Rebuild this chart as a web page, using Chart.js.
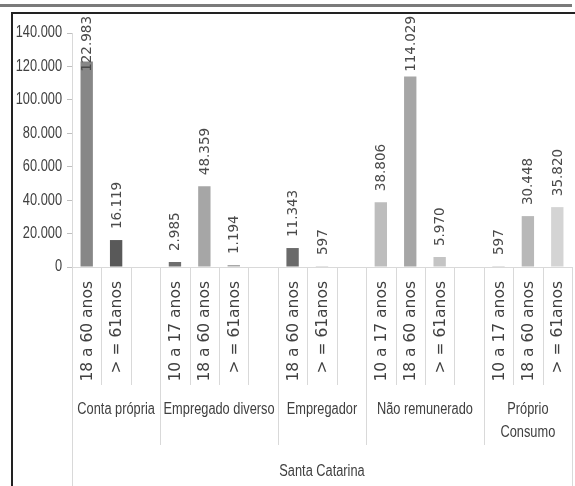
<!DOCTYPE html>
<html>
<head>
<meta charset="utf-8">
<script src="https://cdn.jsdelivr.net/npm/chart.js@4.4.1/dist/chart.umd.min.js"></script>
<style>
  body { margin: 0; background: #fff; }
  #wrap { position: relative; width: 575px; height: 486px; overflow: hidden; }
  #topline { position: absolute; left: 0; top: 4px; width: 572px; height: 3px; background: #7a7a7a; }
  #frameTop { position: absolute; left: 11px; top: 12px; right: 0; height: 2px; background: #222; }
  #frameLeft { position: absolute; left: 11px; top: 12px; bottom: 0; width: 2px; background: #222; }
  canvas { position: absolute; left: 0; top: 0; }
</style>
</head>
<body>
<div id="wrap">
  <canvas id="grafik" width="575" height="486"></canvas>
  <div id="topline"></div>
  <div id="frameTop"></div>
  <div id="frameLeft"></div>
</div>
<script>
// grupper (nivå 2) och hela regionen (nivå 3)
const grupper = [['Conta própria'], ['Empregado diverso'], ['Empregador'], ['Não remunerado'], ['Próprio', 'Consumo']];
const region = 'Santa Catarina';

// en kategori per stapelplats, tomma platser avslutar varje grupp
const underEtiketter = [
  '18 a 60 anos', '> = 61anos', '',
  '10 a 17 anos', '18 a 60 anos', '> = 61anos', '',
  '18 a 60 anos', '> = 61anos', '',
  '10 a 17 anos', '18 a 60 anos', '> = 61anos', '',
  '10 a 17 anos', '18 a 60 anos', '> = 61anos'
];
const gruppIndex = [0, 0, 0, 1, 1, 1, 1, 2, 2, 2, 3, 3, 3, 3, 4, 4, 4];
const varden = [122983, 16119, null, 2985, 48359, 1194, null, 11343, 597, null, 38806, 114029, 5970, null, 597, 30448, 35820];

const yTicks = [0, 20000, 40000, 60000, 80000, 100000, 120000, 140000];

// stapelfärger (gråskala som i originalet)
const fargPalett = ['#878787', '#595959', '#fff', '#6e6e6e', '#a6a6a6', '#a8a8a8', '#fff', '#6a6a6a', '#c8c8c8', '#fff',
  '#bdbdbd', '#a6a6a6', '#c4c4c4', '#fff', '#c8c8c8', '#b8b8b8', '#d4d4d4'];

// 122983 -> "122.983"
const formatera = v => String(v).replace(/\B(?=(\d{3})+(?!\d))/g, '.');

const textFarg = '#404040';
const linjeFarg = '#d9d9d9';
const smal = 0.8; // horisontell komprimering, ersätter Calibri

// smal text: ritas med ihoptryckt x-led
function smalText(ctx, txt, x, y, align) {
  ctx.save();
  ctx.translate(x, y);
  ctx.scale(smal, 1);
  ctx.textAlign = align;
  ctx.fillText(txt, 0, 0);
  ctx.restore();
}

// ritar datavärden, underetiketter, gruppetiketter och avdelare
const etikettPlugin = {
  id: 'etiketter',
  afterDatasetsDraw(chart) {
    const ctx = chart.ctx;
    const x = chart.scales.x;
    const y = chart.scales.y;
    const botten = chart.chartArea.bottom;
    const meta = chart.getDatasetMeta(0);

    // y-axelns etiketter
    ctx.save();
    ctx.font = "16px 'Liberation Sans'";
    ctx.fillStyle = textFarg;
    ctx.textBaseline = 'middle';
    yTicks.forEach(v => smalText(ctx, formatera(v), y.right - 10, y.getPixelForValue(v), 'right'));
    ctx.restore();

    // datavärden, roterade
    ctx.save();
    ctx.font = "13.5px 'DejaVu Sans'";
    ctx.fillStyle = '#4a4a4a';
    ctx.textAlign = 'left';
    ctx.textBaseline = 'middle';
    meta.data.forEach((bar, i) => {
      if (varden[i] == null) return;
      const txt = formatera(varden[i]);
      const w = ctx.measureText(txt).width;
      let start = bar.y - 11;
      if (start - w < 16) start = 16 + w;
      ctx.save();
      ctx.translate(bar.x + 1, start);
      ctx.rotate(-Math.PI / 2);
      ctx.fillText(txt, 0, 0);
      ctx.restore();
    });
    ctx.restore();

    // underetiketter (åldersgrupper)
    ctx.save();
    ctx.font = "15.5px 'DejaVu Sans'";
    ctx.fillStyle = textFarg;
    ctx.textAlign = 'right';
    ctx.textBaseline = 'middle';
    underEtiketter.forEach((txt, i) => {
      if (!txt) return;
      ctx.save();
      ctx.translate(x.getPixelForValue(i) + 1, botten + 14);
      ctx.rotate(-Math.PI / 2);
      ctx.fillText(txt, 0, 0);
      ctx.restore();
    });
    ctx.restore();

    // avdelare mellan platser och grupper
    const halv = (x.getPixelForValue(1) - x.getPixelForValue(0)) / 2;
    ctx.save();
    ctx.strokeStyle = linjeFarg;
    ctx.lineWidth = 1;
    for (let i = 0; i <= underEtiketter.length; i++) {
      const px = Math.round(i < underEtiketter.length ? x.getPixelForValue(i) - halv : x.getPixelForValue(i - 1) + halv) + 0.5;
      let slut = botten + 118;
      if (i === 0 || i === underEtiketter.length) slut = chart.height;
      else if (gruppIndex[i] !== gruppIndex[i - 1]) slut = botten + 178;
      ctx.beginPath();
      ctx.moveTo(px, botten);
      ctx.lineTo(px, slut);
      ctx.stroke();
    }
    ctx.restore();

    // gruppetiketter
    ctx.save();
    ctx.font = "16px 'Liberation Sans'";
    ctx.fillStyle = textFarg;
    ctx.textBaseline = 'middle';
    grupper.forEach((rader, g) => {
      const idx = gruppIndex.map((v, i) => v === g ? i : -1).filter(i => i >= 0);
      const mitt = (x.getPixelForValue(idx[0]) + x.getPixelForValue(idx[idx.length - 1])) / 2;
      rader.forEach((rad, r) => smalText(ctx, rad, mitt, botten + 143 + r * 23, 'center'));
    });
    smalText(ctx, region, (x.left + x.right) / 2, botten + 205, 'center');
    ctx.restore();
  }
};

new Chart(document.getElementById('grafik'), {
  type: 'bar',
  data: {
    labels: underEtiketter,
    datasets: [{
      data: varden,
      backgroundColor: fargPalett,
      barPercentage: 0.42,
      categoryPercentage: 1
    }]
  },
  options: {
    responsive: false,
    animation: false,
    layout: { padding: { top: 33, right: 3, left: 0, bottom: 0 } },
    plugins: { legend: { display: false }, tooltip: { enabled: false } },
    scales: {
      x: {
        ticks: { display: false },
        grid: { display: false },
        border: { color: linjeFarg },
        afterFit: s => { s.height = 219; }
      },
      y: {
        min: 0,
        max: 140000,
        afterBuildTicks: s => { s.ticks = yTicks.map(v => ({ value: v })); },
        ticks: { display: false },
        grid: { drawOnChartArea: false, tickLength: 5, color: '#bfbfbf' },
        border: { color: linjeFarg },
        afterFit: s => { s.width = 72; }
      }
    }
  },
  plugins: [etikettPlugin]
});
</script>
</body>
</html>
